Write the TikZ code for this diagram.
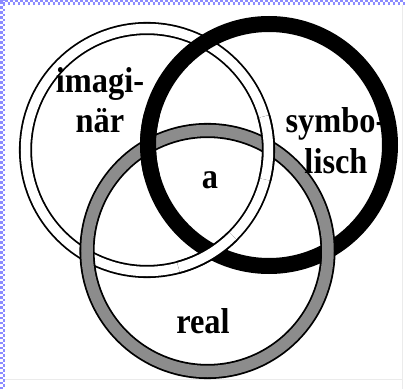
\documentclass[tikz,border=0pt]{standalone}
\usepackage{fontspec}
\setmainfont{Liberation Serif}
\newfontfamily\ringfont{Liberation Serif}[FakeStretch=0.9]
\usepackage{tikz}
\usetikzlibrary{positioning}
\tikzset{
  imagring/.style={draw=black, line width=1.8pt, double=white, double distance=9.5pt},
  symbring/.style={draw=black, line width=16pt},
  realring/.style={draw=black, line width=1.8pt, double=black!45, double distance=11.5pt},
  schrift/.style={font=\ringfont\fontsize{36}{40.5}\selectfont\bfseries, inner sep=0pt, align=center},
  rahmen/.style={blue!45, line width=2.5pt, dash pattern=on 2.5pt off 2.5pt}
}
\begin{document}
\begin{tikzpicture}[x=1pt, y=1pt]
    \useasboundingbox (0,0) rectangle (405,389);

    % Rahmen
    \draw [rahmen] (1.25,0) -- (1.25,389);
    \draw [rahmen, dash phase=2.5pt] (3.75,0) -- (3.75,389);
    \draw [rahmen] (0,387.75) -- (405,387.75);
    \draw [rahmen, dash phase=2.5pt] (0,385.25) -- (405,385.25);
    \draw [black!8, line width=0.8pt] (402.5,0) -- (402.5,384) (5,10) -- (402.5,10);

    \coordinate (imag) at (147,239);
    \coordinate (symb) at (269,244);
    \coordinate (real) at (207.5,138);

    % Ringe
    \draw [imagring] (imag) circle [radius=121.5];
    \draw [symbring] (symb) circle [radius=121];
    \draw [realring] (real) circle [radius=120.5];

    % Verschlingung
    \draw [imagring] ([shift={(-75:121.5)}]imag) arc [start angle=-75, end angle=-45, radius=121.5];
    \draw [imagring] ([shift={(-14:121.5)}]imag) arc [start angle=-14, end angle=16, radius=121.5];
    \draw [symbring] ([shift={(165:121)}]symb) arc [start angle=165, end angle=195, radius=121];

    % Beschriftung
    \node (imagtext) [schrift] at (100,289) {imagi-\\när};
    \node (symbtext) [schrift] at (336,248.5) {symbo-\\lisch};
    \node (atext) [schrift, anchor=base] at (210,200) {a};
    \node (realtext) [schrift, anchor=base] at (203,56) {real};

\end{tikzpicture}
\end{document}
